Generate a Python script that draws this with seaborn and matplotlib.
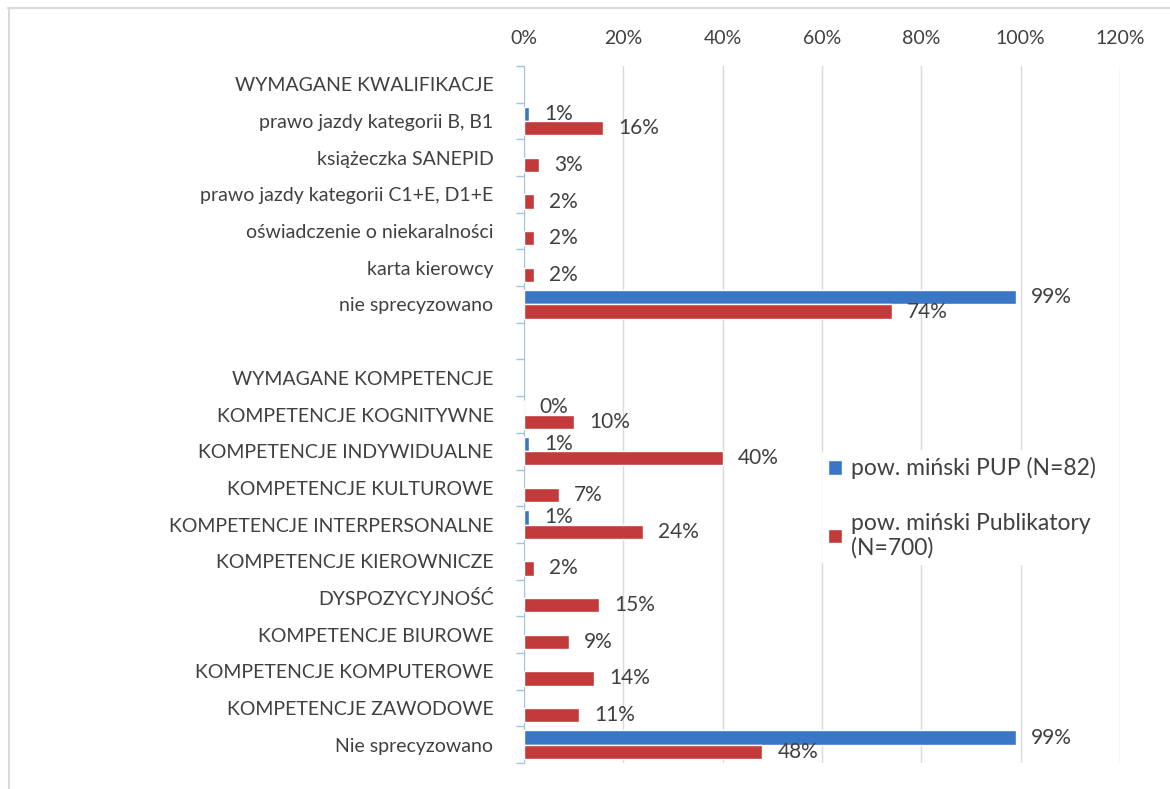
import seaborn as sns
import pandas as pd
import matplotlib.pyplot as plt
import numpy as np
from matplotlib.lines import Line2D

categories = [
    'WYMAGANE KWALIFIKACJE',
    'prawo jazdy kategorii B, B1',
    'książeczka SANEPID',
    'prawo jazdy kategorii C1+E, D1+E',
    'oświadczenie o niekaralności',
    'karta kierowcy',
    'nie sprecyzowano',
    ' ',
    'WYMAGANE KOMPETENCJE',
    'KOMPETENCJE KOGNITYWNE',
    'KOMPETENCJE INDYWIDUALNE',
    'KOMPETENCJE KULTUROWE',
    'KOMPETENCJE INTERPERSONALNE',
    'KOMPETENCJE KIEROWNICZE',
    'DYSPOZYCYJNOŚĆ',
    'KOMPETENCJE BIUROWE',
    'KOMPETENCJE KOMPUTEROWE',
    'KOMPETENCJE ZAWODOWE',
    'Nie sprecyzowano',
]
nan = np.nan
pup = [nan, 1, nan, nan, nan, nan, 99, nan, nan, 0, 1, nan, 1, nan, nan, nan, nan, nan, 99]
publikatory = [nan, 16, 3, 2, 2, 2, 74, nan, nan, 10, 40, 7, 24, 2, 15, 9, 14, 11, 48]
series = ['pow. miński PUP (N=82)', 'pow. miński Publikatory\n(N=700)']
colors = ['#3A76C6', '#C23A3A']

df = pd.DataFrame({
    'Kategoria': categories * 2,
    'Wartość': pup + publikatory,
    'Seria': [series[0]] * len(categories) + [series[1]] * len(categories),
})

sns.set_style('white')
plt.rcParams['font.family'] = ['Lato', 'DejaVu Sans']

fig = plt.figure(figsize=(11.7, 7.89), dpi=100)
ax = fig.add_axes([524 / 1170, 26 / 789, 596 / 1170, 697 / 789])

sns.barplot(data=df, x='Wartość', y='Kategoria', hue='Seria', order=categories,
            hue_order=series, palette=colors, orient='h', width=0.78,
            saturation=1, ax=ax, zorder=3)

# value labels
for cont in ax.containers:
    for p in cont:
        w = p.get_width()
        if np.isnan(w):
            continue
        ax.annotate(f'{w:.0f}%', (w, p.get_y() + p.get_height() / 2),
                    xytext=(11, 0), textcoords='offset points',
                    ha='left', va='center', fontsize=15, color='#404040', zorder=4)

ax.set_xlim(0, 120)
ax.set_ylim(len(categories) - 0.5, -0.5)
ax.set_xticks(range(0, 121, 20))
ax.set_xticklabels([f'{t}%' for t in range(0, 121, 20)])
ax.xaxis.tick_top()
ax.set_xlabel('')
ax.set_ylabel('')
ax.grid(axis='x', color='#D9D9D9', linewidth=1, zorder=0)
ax.tick_params(axis='x', length=0, labelsize=14, labelcolor='#404040', pad=14)
ax.tick_params(axis='y', which='major', length=0, labelsize=14, labelcolor='#404040', pad=22)
ax.set_yticks(np.arange(-0.5, len(categories), 1), minor=True)
ax.tick_params(axis='y', which='minor', left=True, length=6, color='#9DC3E6', width=1)
for s in ['top', 'right', 'bottom']:
    ax.spines[s].set_visible(False)
ax.spines['left'].set_color('#9DC3E6')

leg = ax.legend(loc='upper left', bbox_to_anchor=(0.48, 0.465), frameon=True,
                fontsize=16.5, handlelength=0.6, handleheight=0.6, handletextpad=0.4,
                labelspacing=1.45, borderpad=0.3, labelcolor='#404040')
leg.get_frame().set_facecolor('white')
leg.get_frame().set_edgecolor('none')
leg.get_frame().set_alpha(1)
leg.set_zorder(5)

# chart border (top and left visible in the screenshot)
fig.add_artist(Line2D([8 / 1170, 1], [1 - 8 / 789, 1 - 8 / 789], color='#D9D9D9', lw=1.5))
fig.add_artist(Line2D([9 / 1170, 9 / 1170], [0, 1 - 8 / 789], color='#D9D9D9', lw=1.5))

fig.savefig('out.png', dpi=100)
